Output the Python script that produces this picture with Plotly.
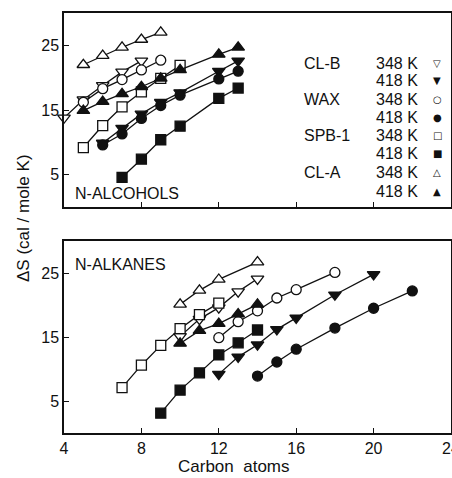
import plotly.graph_objects as go

# ---------------- data ----------------
series_names = ["CL-B", "WAX", "SPB-1", "CL-A"]
temps = ["348 K", "418 K"]

# N-ALCOHOLS (top panel)
alc_clb_348_x = [4, 5, 6, 7, 8]
alc_clb_348_y = [13.8, 16.6, 18.8, 20.9, 22.6]
alc_clb_418_x = [6, 7, 8, 9, 10, 12, 13]
alc_clb_418_y = [9.9, 12.2, 14.4, 16.2, 17.7, 21.0, 22.6]
alc_wax_348_x = [5, 6, 7, 8, 9]
alc_wax_348_y = [16.2, 18.3, 19.7, 21.2, 22.7]
alc_wax_418_x = [6, 7, 8, 9, 10, 12, 13]
alc_wax_418_y = [9.6, 11.3, 13.7, 15.7, 17.3, 19.8, 21.0]
alc_spb_348_x = [5, 6, 7, 8, 9, 10]
alc_spb_348_y = [9.2, 12.6, 15.5, 17.8, 19.9, 21.9]
alc_spb_418_x = [7, 8, 9, 10, 12, 13]
alc_spb_418_y = [4.6, 7.4, 10.4, 12.5, 16.8, 18.4]
alc_cla_348_x = [5, 6, 7, 8, 9]
alc_cla_348_y = [22.0, 23.4, 24.7, 25.9, 27.0]
alc_cla_418_x = [5, 6, 7, 8, 9, 10, 12, 13]
alc_cla_418_y = [14.9, 16.3, 17.5, 18.6, 19.9, 21.2, 23.6, 24.7]

# N-ALKANES (bottom panel)
alk_clb_348_x = [10, 11, 12, 13, 14]
alk_clb_348_y = [15.1, 17.8, 19.6, 22.1, 24.1]
alk_clb_418_x = [12, 13, 14, 15, 16, 18, 20]
alk_clb_418_y = [9.2, 11.9, 13.8, 16.2, 18.0, 21.6, 24.8]
alk_wax_348_x = [12, 13, 14, 15, 16, 18]
alk_wax_348_y = [14.9, 17.4, 19.1, 21.1, 22.4, 25.1]
alk_wax_418_x = [14, 15, 16, 18, 20, 22]
alk_wax_418_y = [8.9, 11.1, 13.1, 16.4, 19.5, 22.2]
alk_spb_348_x = [7, 8, 9, 10, 11, 12]
alk_spb_348_y = [7.1, 10.6, 13.7, 16.3, 18.5, 20.3]
alk_spb_418_x = [9, 10, 11, 12, 13, 14]
alk_spb_418_y = [3.1, 6.7, 9.4, 12.2, 14.1, 16.1]
alk_cla_348_x = [10, 11, 12, 14]
alk_cla_348_y = [20.1, 22.3, 24.0, 26.7]
alk_cla_418_x = [10, 11, 12, 13, 14]
alk_cla_418_y = [14.0, 16.0, 17.1, 18.6, 20.1]

x_ticks = [4, 8, 12, 16, 20, 24]
y_ticks = [5, 15, 25]
legend_glyphs = ["▽", "▼", "○", "●", "□", "■", "△", "▲"]

# ---------------- styles ----------------
FONT = "Liberation Sans"
BLACK = "#111111"
styles = {
    ("CL-B", "348"): ("triangle-down", "white"),
    ("CL-B", "418"): ("triangle-down", BLACK),
    ("WAX", "348"): ("circle", "white"),
    ("WAX", "418"): ("circle", BLACK),
    ("SPB-1", "348"): ("square", "white"),
    ("SPB-1", "418"): ("square", BLACK),
    ("CL-A", "348"): ("triangle-up", "white"),
    ("CL-A", "418"): ("triangle-up", BLACK),
}

fig = go.Figure()

def add(x, y, key, xa, ya):
    sym, fill = styles[key]
    size = 10 if sym in ("circle", "square") else 11
    fig.add_trace(go.Scatter(
        x=x, y=y, mode="lines+markers", xaxis=xa, yaxis=ya,
        line=dict(color=BLACK, width=1.3),
        marker=dict(symbol=sym, size=size, color=fill,
                    line=dict(color=BLACK, width=1.3)),
        showlegend=False, hoverinfo="skip", cliponaxis=False))

top = [
    (alc_cla_348_x, alc_cla_348_y, ("CL-A", "348")),
    (alc_clb_348_x, alc_clb_348_y, ("CL-B", "348")),
    (alc_wax_348_x, alc_wax_348_y, ("WAX", "348")),
    (alc_spb_348_x, alc_spb_348_y, ("SPB-1", "348")),
    (alc_cla_418_x, alc_cla_418_y, ("CL-A", "418")),
    (alc_clb_418_x, alc_clb_418_y, ("CL-B", "418")),
    (alc_wax_418_x, alc_wax_418_y, ("WAX", "418")),
    (alc_spb_418_x, alc_spb_418_y, ("SPB-1", "418")),
]
bottom = [
    (alk_cla_348_x, alk_cla_348_y, ("CL-A", "348")),
    (alk_clb_348_x, alk_clb_348_y, ("CL-B", "348")),
    (alk_wax_348_x, alk_wax_348_y, ("WAX", "348")),
    (alk_spb_348_x, alk_spb_348_y, ("SPB-1", "348")),
    (alk_cla_418_x, alk_cla_418_y, ("CL-A", "418")),
    (alk_clb_418_x, alk_clb_418_y, ("CL-B", "418")),
    (alk_wax_418_x, alk_wax_418_y, ("WAX", "418")),
    (alk_spb_418_x, alk_spb_418_y, ("SPB-1", "418")),
]
for x, y, k in top:
    add(x, y, k, "x", "y")
for x, y, k in bottom:
    add(x, y, k, "x2", "y2")

axis_common = dict(
    range=[4, 24], tickvals=x_ticks, ticks="inside", ticklen=5,
    tickcolor=BLACK, showline=True, linecolor=BLACK, linewidth=1.5,
    mirror=True, showgrid=False, zeroline=False, automargin=False,
    ticklabeloverflow="allow",
    tickfont=dict(family=FONT, size=16, color=BLACK),
)
yaxis_common = dict(
    range=[0, 30], tickvals=y_ticks, ticks="inside", ticklen=5,
    tickcolor=BLACK, showline=True, linecolor=BLACK, linewidth=1.5,
    mirror=True, showgrid=False, zeroline=False, automargin=False,
    tickfont=dict(family=FONT, size=16, color=BLACK),
)

fig.update_layout(
    width=452, height=478,
    margin=dict(l=64, r=1, t=13, b=45, autoexpand=False),
    paper_bgcolor="white", plot_bgcolor="white",
    font=dict(family=FONT, size=16, color=BLACK),
    xaxis=dict(axis_common, domain=[0, 1], anchor="y", showticklabels=False),
    yaxis=dict(yaxis_common, domain=[0.538, 1], anchor="x"),
    xaxis2=dict(axis_common, domain=[0, 1], anchor="y2"),
    yaxis2=dict(yaxis_common, domain=[0, 0.457], anchor="x2"),
)

ann = []
def text(x, y, s, xanchor="left", size=16, family=FONT):
    ann.append(dict(x=x, y=y, xref="paper", yref="paper", text=s,
                    showarrow=False, xanchor=xanchor, yanchor="middle",
                    font=dict(family=family, size=size, color=BLACK)))

# panel labels
text(0.022, (433 - 193) / 420, "N-ALCOHOLS")
text(0.022, (433 - 264) / 420, "N-ALKANES")

# legend block
row_px = [63.3, 81.0, 99.0, 117.0, 135.5, 153.5, 172.5, 191.0]
for i, py in enumerate(row_px):
    yp = (433 - py) / 420
    if i % 2 == 0:
        text((302 - 64) / 387, yp, series_names[i // 2])
    text((374 - 64) / 387, yp, temps[i % 2])
    text((437 - 64) / 387, yp, legend_glyphs[i], xanchor="center",
         size=10, family="DejaVu Sans")

# axis titles
ann.append(dict(x=(23 - 64) / 387, y=(433 - 218) / 420, xref="paper", yref="paper",
                text="ΔS (cal / mole K)", showarrow=False, textangle=-90,
                xanchor="center", yanchor="middle",
                font=dict(family=FONT, size=17, color=BLACK)))
text((234 - 64) / 387, (433 - 466) / 420, "Carbon&nbsp;&nbsp;atoms",
     xanchor="center", size=17)

fig.update_layout(annotations=ann)
fig.write_html(
    "out.html",
    config={"displayModeBar": False},
    post_script="document.body.style.margin='0';document.body.style.overflow='hidden';",
)
